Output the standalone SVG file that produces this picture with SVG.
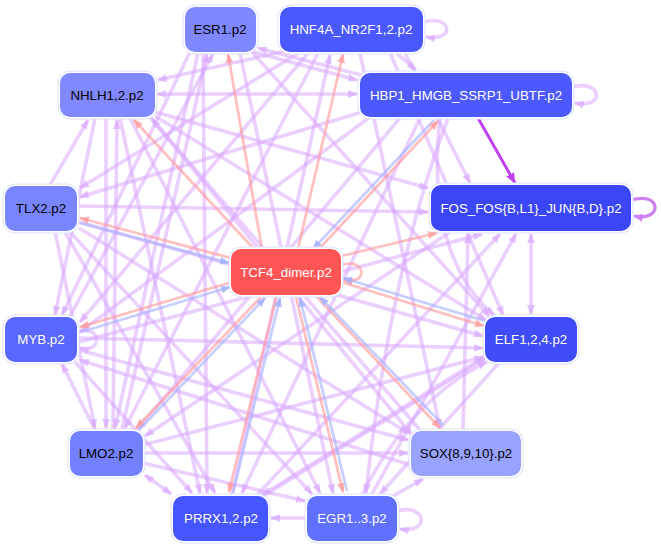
<svg xmlns="http://www.w3.org/2000/svg" width="661" height="548" viewBox="0 0 661 548">
<style>
.e{fill:none;stroke:#d9a8ff;stroke-opacity:.55;stroke-width:3.6}
.ep{fill:none;stroke:#ff9a9a;stroke-opacity:.62;stroke-width:2.8}
.eb{fill:none;stroke:#a6b2ff;stroke-opacity:.62;stroke-width:2.8}
.es{fill:none;stroke:#c040f0;stroke-width:3}
.ef{fill:none;stroke:#cf80f2;stroke-width:3.2}
.halo{fill:#fff;stroke:#dbe0ff;stroke-width:1}
.lbl{font-family:"Liberation Sans",Arial,Helvetica,sans-serif;font-size:13.3px;text-anchor:middle}
.w{fill:#fff}.k{fill:#000}
</style>
<defs>
<marker id="ap" viewBox="0 0 10 8" refX="9" refY="4" markerWidth="10" markerHeight="8" markerUnits="userSpaceOnUse" orient="auto-start-reverse"><path d="M0,0L10,4L0,8z" fill="#d9a8ff" fill-opacity=".65"/></marker>
<marker id="pp" viewBox="0 0 10 8" refX="9" refY="4" markerWidth="10" markerHeight="8" markerUnits="userSpaceOnUse" orient="auto"><path d="M0,0L10,4L0,8z" fill="#ff9a9a" fill-opacity=".75"/></marker>
<marker id="bp" viewBox="0 0 10 8" refX="9" refY="4" markerWidth="10" markerHeight="8" markerUnits="userSpaceOnUse" orient="auto"><path d="M0,0L10,4L0,8z" fill="#a6b2ff" fill-opacity=".85"/></marker>
<marker id="sp" viewBox="0 0 10 8" refX="9" refY="4" markerWidth="11" markerHeight="9" markerUnits="userSpaceOnUse" orient="auto"><path d="M0,0L10,4L0,8z" fill="#c040f0"/></marker>
<marker id="fp" viewBox="0 0 10 8" refX="9" refY="4" markerWidth="10" markerHeight="8" markerUnits="userSpaceOnUse" orient="auto"><path d="M0,0L10,4L0,8z" fill="#cf80f2"/></marker>
</defs>
<g id="connectors">
<path class="e" d="M423 22C452 14 456 42 426 37" marker-end="url(#ap)"/>
<path class="e" d="M572 87C602 79 606 109 575 103" marker-end="url(#ap)"/>
<path class="ef" d="M631 200C662 191 663 222 634 216" marker-end="url(#fp)"/>
<path class="e" d="M77 332C102 324 103 354 80 348" marker-end="url(#ap)"/>
<path class="e" d="M397 511C427 503 430 534 400 529" marker-end="url(#ap)"/>
<path class="e" d="M157 94L357 94" marker-start="url(#ap)" marker-end="url(#ap)"/>
<path class="e" d="M290 50L158 80" marker-end="url(#ap)"/>
<path class="e" d="M250 51L357 80" marker-end="url(#ap)"/>
<path class="e" d="M395 52L416 70" marker-end="url(#ap)"/>
<path class="e" d="M531 234L531 314" marker-start="url(#ap)" marker-end="url(#ap)"/>
<path class="e" d="M50 185L88 120" marker-end="url(#ap)"/>
<path class="e" d="M300 52L80 188" marker-end="url(#ap)"/>
<path class="e" d="M362 112L80 197" marker-end="url(#ap)"/>
<path class="e" d="M122 429L207 54" marker-end="url(#ap)"/>
<path class="e" d="M70 316L213 54" marker-end="url(#ap)"/>
<path class="e" d="M203 53L207 493" marker-end="url(#ap)"/>
<path class="e" d="M240 53L333 493" marker-end="url(#ap)"/>
<path class="e" d="M252 52L489 316" marker-end="url(#ap)"/>
<path class="e" d="M318 53L125 428" marker-end="url(#ap)"/>
<path class="e" d="M308 53L80 322" marker-end="url(#ap)"/>
<path class="e" d="M232 494L330 55" marker-end="url(#ap)"/>
<path class="e" d="M360 53L440 428" marker-end="url(#ap)"/>
<path class="e" d="M390 53L503 315" marker-end="url(#ap)"/>
<path class="e" d="M405 53L470 183" marker-end="url(#ap)"/>
<path class="e" d="M370 117L80 332" marker-end="url(#ap)"/>
<path class="e" d="M400 118L137 430" marker-end="url(#ap)"/>
<path class="e" d="M420 118L242 493" marker-end="url(#ap)"/>
<path class="e" d="M440 118Q425 255 494 315" marker-end="url(#ap)"/>
<path class="e" d="M448 118Q390 270 366 493" marker-end="url(#ap)"/>
<path class="e" d="M463 430L468 234" marker-end="url(#ap)"/>
<path class="e" d="M155 112L428 188" marker-end="url(#ap)"/>
<path class="e" d="M79 206L428 212" marker-end="url(#ap)"/>
<path class="e" d="M79 342L482 234" marker-end="url(#ap)"/>
<path class="e" d="M258 494L500 234" marker-end="url(#ap)"/>
<path class="e" d="M372 494L516 234" marker-end="url(#ap)"/>
<path class="e" d="M79 222L483 336" marker-end="url(#ap)"/>
<path class="e" d="M79 338L483 348" marker-end="url(#ap)"/>
<path class="e" d="M143 445L483 357" marker-end="url(#ap)"/>
<path class="e" d="M143 453L408 453" marker-end="url(#ap)"/>
<path class="e" d="M393 496L423 479" marker-end="url(#ap)"/>
<path class="e" d="M79 350L408 440" marker-end="url(#ap)"/>
<path class="e" d="M79 228L408 433" marker-end="url(#ap)"/>
<path class="e" d="M305 518L271 518" marker-end="url(#ap)"/>
<path class="e" d="M143 463L305 501" marker-end="url(#ap)"/>
<path class="e" d="M130 118L320 493" marker-end="url(#ap)"/>
<path class="e" d="M70 232L312 494" marker-end="url(#ap)"/>
<path class="e" d="M75 362L192 493" marker-end="url(#ap)"/>
<path class="e" d="M362 495Q410 400 487 362" marker-end="url(#ap)"/>
<path class="e" d="M145 475L171 494" marker-start="url(#ap)" marker-end="url(#ap)"/>
<path class="e" d="M106 118L106 428" marker-end="url(#ap)"/>
<path class="e" d="M113 430L117 120" marker-end="url(#ap)"/>
<path class="e" d="M95 430L62 364" marker-end="url(#ap)"/>
<path class="e" d="M95 118L55 315" marker-end="url(#ap)"/>
<path class="e" d="M410 465L80 360" marker-end="url(#ap)"/>
<path class="e" d="M120 118L200 493" marker-end="url(#ap)"/>
<path class="e" d="M150 117L412 435" marker-end="url(#ap)"/>
<path class="e" d="M155 116L486 320" marker-end="url(#ap)"/>
<path class="e" d="M55 231L95 428" marker-end="url(#ap)"/>
<path class="e" d="M65 232L215 493" marker-end="url(#ap)"/>
<path class="e" d="M198 53L115 428" marker-end="url(#ap)"/>
<path class="e" d="M190 52L62 315" marker-end="url(#ap)"/>
<path class="e" d="M365 76L258 48" marker-end="url(#ap)"/>
<path class="e" d="M487 355L262 495" marker-end="url(#ap)"/>
<path class="e" d="M500 362L380 494" marker-end="url(#ap)"/>
<path class="e" d="M420 430L152 119" marker-end="url(#ap)"/>
<path class="e" d="M262 497L486 358" marker-end="url(#ap)"/>
<path class="e" d="M450 232L145 436" marker-end="url(#ap)"/>
<path class="es" d="M478 118L515 183" marker-end="url(#sp)"/>
<path class="ep" d="M341 265C366 257 369 286 344 280" marker-end="url(#pp)"/>
<path class="ep" d="M262 249L228 54" marker-end="url(#pp)"/>
<path class="ep" d="M298 249L343 54" marker-end="url(#pp)"/>
<path class="ep" d="M255 250L134 120" marker-end="url(#pp)"/>
<path class="ep" d="M341 256L437 233" marker-end="url(#pp)"/>
<path class="ep" d="M231 258L80 218" marker-end="url(#pp)"/>
<path class="eb" d="M80 223L229 263" marker-end="url(#bp)"/>
<path class="ep" d="M232 282L80 327" marker-end="url(#pp)"/>
<path class="eb" d="M81 332L230 287" marker-end="url(#bp)"/>
<path class="ep" d="M262 296L136 428" marker-end="url(#pp)"/>
<path class="eb" d="M139 430L265 298" marker-end="url(#bp)"/>
<path class="ep" d="M276 297L229 492" marker-end="url(#pp)"/>
<path class="eb" d="M233 493L280 298" marker-end="url(#bp)"/>
<path class="ep" d="M296 297L343 492" marker-end="url(#pp)"/>
<path class="eb" d="M347 491L300 298" marker-end="url(#bp)"/>
<path class="ep" d="M316 296L440 428" marker-end="url(#pp)"/>
<path class="eb" d="M443 425L320 297" marker-end="url(#bp)"/>
<path class="ep" d="M341 282L484 326" marker-end="url(#pp)"/>
<path class="eb" d="M485 321L343 278" marker-end="url(#bp)"/>
<path class="eb" d="M434 120L313 249" marker-end="url(#bp)"/>
<path class="ep" d="M318 250L438 121" marker-end="url(#pp)"/>
</g>
<g id="ESR1"><rect class="halo" x="183" y="5" width="75" height="49" rx="12"/><rect x="185" y="7" width="71" height="45" rx="10" fill="#7f88ff"/><text class="lbl k" x="220" y="34">ESR1.p2</text></g>
<g id="HNF4A"><rect class="halo" x="278" y="5" width="147" height="49" rx="12"/><rect x="280" y="7" width="143" height="45" rx="10" fill="#4a58ff"/><text class="lbl w" x="351" y="34">HNF4A_NR2F1,2.p2</text></g>
<g id="HBP1"><rect class="halo" x="358" y="71" width="216" height="48" rx="12"/><rect x="360" y="73" width="212" height="44" rx="10" fill="#4b59ff"/><text class="lbl w" x="466" y="100">HBP1_HMGB_SSRP1_UBTF.p2</text></g>
<g id="NHLH1"><rect class="halo" x="58" y="71" width="99" height="48" rx="12"/><rect x="60" y="73" width="95" height="44" rx="10" fill="#8089ff"/><text class="lbl k" x="107" y="100">NHLH1,2.p2</text></g>
<g id="TLX2"><rect class="halo" x="3" y="184" width="76" height="49" rx="12"/><rect x="5" y="186" width="72" height="45" rx="10" fill="#7985ff"/><text class="lbl k" x="41" y="213">TLX2.p2</text></g>
<g id="MYB"><rect class="halo" x="3" y="315" width="76" height="49" rx="12"/><rect x="5" y="317" width="72" height="45" rx="10" fill="#5966ff"/><text class="lbl w" x="41" y="344">MYB.p2</text></g>
<g id="FOS"><rect class="halo" x="429" y="183" width="204" height="50" rx="12"/><rect x="431" y="185" width="200" height="46" rx="10" fill="#3a46f8"/><text class="lbl w" x="531" y="213">FOS_FOS{B,L1}_JUN{B,D}.p2</text></g>
<g id="ELF"><rect class="halo" x="483" y="315" width="96" height="49" rx="12"/><rect x="485" y="317" width="92" height="45" rx="10" fill="#3f4cf8"/><text class="lbl w" x="531" y="344">ELF1,2,4.p2</text></g>
<g id="LMO2"><rect class="halo" x="68" y="429" width="77" height="49" rx="12"/><rect x="70" y="431" width="73" height="45" rx="10" fill="#7380ff"/><text class="lbl k" x="106" y="458">LMO2.p2</text></g>
<g id="SOX"><rect class="halo" x="409" y="429" width="114" height="49" rx="12"/><rect x="411" y="431" width="110" height="45" rx="10" fill="#98a2ff"/><text class="lbl k" x="466" y="458">SOX{8,9,10}.p2</text></g>
<g id="PRRX1"><rect class="halo" x="171" y="494" width="99" height="49" rx="12"/><rect x="173" y="496" width="95" height="45" rx="10" fill="#4555ff"/><text class="lbl w" x="221" y="523">PRRX1,2.p2</text></g>
<g id="EGR"><rect class="halo" x="305" y="494" width="94" height="49" rx="12"/><rect x="307" y="496" width="90" height="45" rx="10" fill="#6070ff"/><text class="lbl w" x="352" y="523">EGR1..3.p2</text></g>
<g id="TCF4"><rect class="halo" x="229" y="247" width="114" height="50" rx="12" stroke="#ffd8d8"/><rect x="231" y="249" width="110" height="46" rx="10" fill="#ff5555"/><text class="lbl w" x="286" y="277">TCF4_dimer.p2</text></g>
</svg>
